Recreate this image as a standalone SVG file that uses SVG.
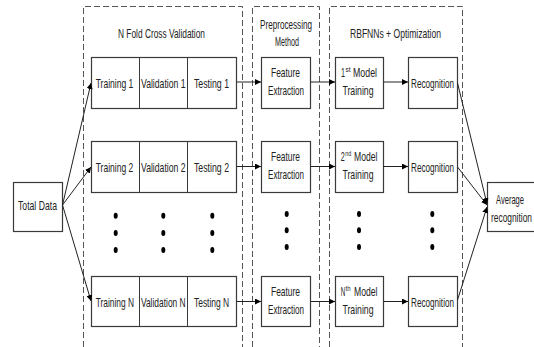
<svg xmlns="http://www.w3.org/2000/svg" width="534" height="347" viewBox="0 0 534 347">
<style>
.panel{fill:none;stroke:#555;stroke-width:1;stroke-dasharray:6 3}
.box{fill:#fff;stroke:#3a3a3a;stroke-width:1.2}
.div{stroke:#3a3a3a;stroke-width:1}
.t{font-family:"Liberation Sans",Arial,sans-serif;font-size:13px;fill:#222;text-anchor:middle}
.ts{font-family:"Liberation Sans",Arial,sans-serif;font-size:13px;fill:#222}
.sup{font-family:"Liberation Sans",Arial,sans-serif;font-size:7px;fill:#222}
.c{stroke:#222;stroke-width:1;fill:none}
.dot{fill:#000}
</style>
<defs>
<marker id="ah" markerUnits="userSpaceOnUse" markerWidth="7" markerHeight="6" refX="6" refY="3" orient="auto">
<path d="M0,0 L6,3 L0,6 z" fill="#000"/>
</marker>
</defs>

<g id="panels">
<path class="panel" d="M83.5,347 V6.5 H242.5 V347"/>
<path class="panel" d="M252.5,347 V6.5 H319.5 V347"/>
<path class="panel" d="M329.5,347 V6.5 H462.5 V347"/>
<text class="t" x="161.5" y="37.5" textLength="87" lengthAdjust="spacingAndGlyphs">N Fold Cross Validation</text>
<text class="t" x="286" y="29" textLength="52" lengthAdjust="spacingAndGlyphs">Preprocessing</text>
<text class="t" x="287" y="45.5" textLength="24" lengthAdjust="spacingAndGlyphs">Method</text>
<text class="t" x="395.5" y="37.5" textLength="91" lengthAdjust="spacingAndGlyphs">RBFNNs + Optimization</text>
</g>

<g id="total-data">
<rect class="box" x="13.5" y="182.5" width="49" height="49"/>
<text class="t" x="37.5" y="209.5" textLength="39" lengthAdjust="spacingAndGlyphs">Total Data</text>
</g>

<g id="fold-1">
<rect class="box" x="91.5" y="57.5" width="145" height="51"/>
<line class="div" x1="139.5" y1="57.5" x2="139.5" y2="108.5"/>
<line class="div" x1="187.5" y1="57.5" x2="187.5" y2="108.5"/>
<text class="t" x="114.5" y="87.5" textLength="37.6" lengthAdjust="spacingAndGlyphs">Training 1</text>
<text class="t" x="163.3" y="87.5" textLength="44.6" lengthAdjust="spacingAndGlyphs">Validation 1</text>
<text class="t" x="211.5" y="87.5" textLength="35" lengthAdjust="spacingAndGlyphs">Testing 1</text>
</g>
<g id="fold-2">
<rect class="box" x="91.5" y="141.5" width="145" height="51"/>
<line class="div" x1="139.5" y1="141.5" x2="139.5" y2="192.5"/>
<line class="div" x1="187.5" y1="141.5" x2="187.5" y2="192.5"/>
<text class="t" x="114.5" y="171.5" textLength="37.6" lengthAdjust="spacingAndGlyphs">Training 2</text>
<text class="t" x="163.3" y="171.5" textLength="44.6" lengthAdjust="spacingAndGlyphs">Validation 2</text>
<text class="t" x="211.5" y="171.5" textLength="35" lengthAdjust="spacingAndGlyphs">Testing 2</text>
</g>
<g id="fold-n">
<rect class="box" x="91.5" y="276.5" width="145" height="50"/>
<line class="div" x1="139.5" y1="276.5" x2="139.5" y2="326.5"/>
<line class="div" x1="187.5" y1="276.5" x2="187.5" y2="326.5"/>
<text class="t" x="114.8" y="306.5" textLength="38.3" lengthAdjust="spacingAndGlyphs">Training N</text>
<text class="t" x="163.3" y="306.5" textLength="44.7" lengthAdjust="spacingAndGlyphs">Validation N</text>
<text class="t" x="211.6" y="306.5" textLength="35.3" lengthAdjust="spacingAndGlyphs">Testing N</text>
</g>

<g id="feature-1">
<rect class="box" x="261.5" y="57.5" width="49" height="51"/>
<text class="t" x="285.5" y="77" textLength="29" lengthAdjust="spacingAndGlyphs">Feature</text>
<text class="t" x="286" y="95" textLength="36" lengthAdjust="spacingAndGlyphs">Extraction</text>
</g>
<g id="feature-2">
<rect class="box" x="261.5" y="141.5" width="49" height="51"/>
<text class="t" x="285.5" y="161" textLength="29" lengthAdjust="spacingAndGlyphs">Feature</text>
<text class="t" x="286" y="179" textLength="36" lengthAdjust="spacingAndGlyphs">Extraction</text>
</g>
<g id="feature-n">
<rect class="box" x="261.5" y="276.5" width="49" height="50"/>
<text class="t" x="285.5" y="296" textLength="29" lengthAdjust="spacingAndGlyphs">Feature</text>
<text class="t" x="286" y="314" textLength="36" lengthAdjust="spacingAndGlyphs">Extraction</text>
</g>

<g id="model-1">
<rect class="box" x="335.5" y="57.5" width="48" height="51"/>
<text class="ts" x="341" y="77" textLength="4" lengthAdjust="spacingAndGlyphs">1</text>
<text class="sup" x="345.6" y="72" textLength="5" lengthAdjust="spacingAndGlyphs">st</text>
<text class="ts" x="353" y="77" textLength="24" lengthAdjust="spacingAndGlyphs">Model</text>
<text class="t" x="358" y="95" textLength="31" lengthAdjust="spacingAndGlyphs">Training</text>
</g>
<g id="model-2">
<rect class="box" x="335.5" y="141.5" width="48" height="51"/>
<text class="ts" x="340.7" y="161" textLength="4" lengthAdjust="spacingAndGlyphs">2</text>
<text class="sup" x="345.3" y="156" textLength="6" lengthAdjust="spacingAndGlyphs">nd</text>
<text class="ts" x="354" y="161" textLength="23.5" lengthAdjust="spacingAndGlyphs">Model</text>
<text class="t" x="358" y="179" textLength="31" lengthAdjust="spacingAndGlyphs">Training</text>
</g>
<g id="model-n">
<rect class="box" x="335.5" y="276.5" width="48" height="50"/>
<text class="ts" x="340.7" y="296" textLength="4.5" lengthAdjust="spacingAndGlyphs">N</text>
<text class="sup" x="345.6" y="291" textLength="5" lengthAdjust="spacingAndGlyphs">th</text>
<text class="ts" x="354" y="296" textLength="23.5" lengthAdjust="spacingAndGlyphs">Model</text>
<text class="t" x="358" y="314" textLength="31" lengthAdjust="spacingAndGlyphs">Training</text>
</g>

<g id="recognition-1">
<rect class="box" x="408.5" y="57.5" width="49" height="51"/>
<text class="t" x="432.5" y="87.5" textLength="43" lengthAdjust="spacingAndGlyphs">Recognition</text>
</g>
<g id="recognition-2">
<rect class="box" x="408.5" y="141.5" width="49" height="51"/>
<text class="t" x="432.5" y="171.5" textLength="43" lengthAdjust="spacingAndGlyphs">Recognition</text>
</g>
<g id="recognition-n">
<rect class="box" x="408.5" y="276.5" width="49" height="50"/>
<text class="t" x="432.5" y="306.5" textLength="43" lengthAdjust="spacingAndGlyphs">Recognition</text>
</g>

<g id="average-recognition">
<rect class="box" x="487.5" y="182.5" width="52" height="49"/>
<text class="t" x="510" y="204" textLength="28" lengthAdjust="spacingAndGlyphs">Average</text>
<text class="t" x="511.5" y="221.5" textLength="41" lengthAdjust="spacingAndGlyphs">recognition</text>
</g>

<g id="ellipsis">
<ellipse class="dot" cx="115.7" cy="215.7" rx="2" ry="3"/>
<ellipse class="dot" cx="115.7" cy="233" rx="2" ry="3"/>
<ellipse class="dot" cx="115.7" cy="250" rx="2" ry="3"/>
<ellipse class="dot" cx="163.3" cy="215.7" rx="2" ry="3"/>
<ellipse class="dot" cx="163.3" cy="233" rx="2" ry="3"/>
<ellipse class="dot" cx="163.3" cy="250" rx="2" ry="3"/>
<ellipse class="dot" cx="212.3" cy="215.7" rx="2" ry="3"/>
<ellipse class="dot" cx="212.3" cy="233" rx="2" ry="3"/>
<ellipse class="dot" cx="212.3" cy="250" rx="2" ry="3"/>
<ellipse class="dot" cx="286.7" cy="214" rx="2" ry="3"/>
<ellipse class="dot" cx="286.7" cy="230.3" rx="2" ry="3"/>
<ellipse class="dot" cx="286.7" cy="247" rx="2" ry="3"/>
<ellipse class="dot" cx="359" cy="214" rx="2" ry="3"/>
<ellipse class="dot" cx="359" cy="230.3" rx="2" ry="3"/>
<ellipse class="dot" cx="359" cy="247" rx="2" ry="3"/>
<ellipse class="dot" cx="432.3" cy="214" rx="2" ry="3"/>
<ellipse class="dot" cx="432.3" cy="230.3" rx="2" ry="3"/>
<ellipse class="dot" cx="432.3" cy="247" rx="2" ry="3"/>
</g>

<g id="connectors">
<line class="c" x1="62.5" y1="205" x2="91" y2="83" marker-end="url(#ah)"/>
<line class="c" x1="62.5" y1="205" x2="91" y2="167" marker-end="url(#ah)"/>
<line class="c" x1="62.5" y1="205" x2="91" y2="301" marker-end="url(#ah)"/>
<line class="c" x1="236.5" y1="82" x2="261" y2="82" marker-end="url(#ah)"/>
<line class="c" x1="236.5" y1="166.5" x2="261" y2="166.5" marker-end="url(#ah)"/>
<line class="c" x1="236.5" y1="301.5" x2="261" y2="301.5" marker-end="url(#ah)"/>
<line class="c" x1="310.5" y1="82" x2="335" y2="82" marker-end="url(#ah)"/>
<line class="c" x1="310.5" y1="166.5" x2="335" y2="166.5" marker-end="url(#ah)"/>
<line class="c" x1="310.5" y1="301.5" x2="335" y2="301.5" marker-end="url(#ah)"/>
<line class="c" x1="383.5" y1="82" x2="408" y2="82" marker-end="url(#ah)"/>
<line class="c" x1="383.5" y1="166.5" x2="408" y2="166.5" marker-end="url(#ah)"/>
<line class="c" x1="383.5" y1="301.5" x2="408" y2="301.5" marker-end="url(#ah)"/>
<line class="c" x1="457.5" y1="83" x2="487" y2="204" marker-end="url(#ah)"/>
<line class="c" x1="457.5" y1="167" x2="487" y2="205" marker-end="url(#ah)"/>
<line class="c" x1="457.5" y1="300" x2="487" y2="207" marker-end="url(#ah)"/>
</g>
</svg>
